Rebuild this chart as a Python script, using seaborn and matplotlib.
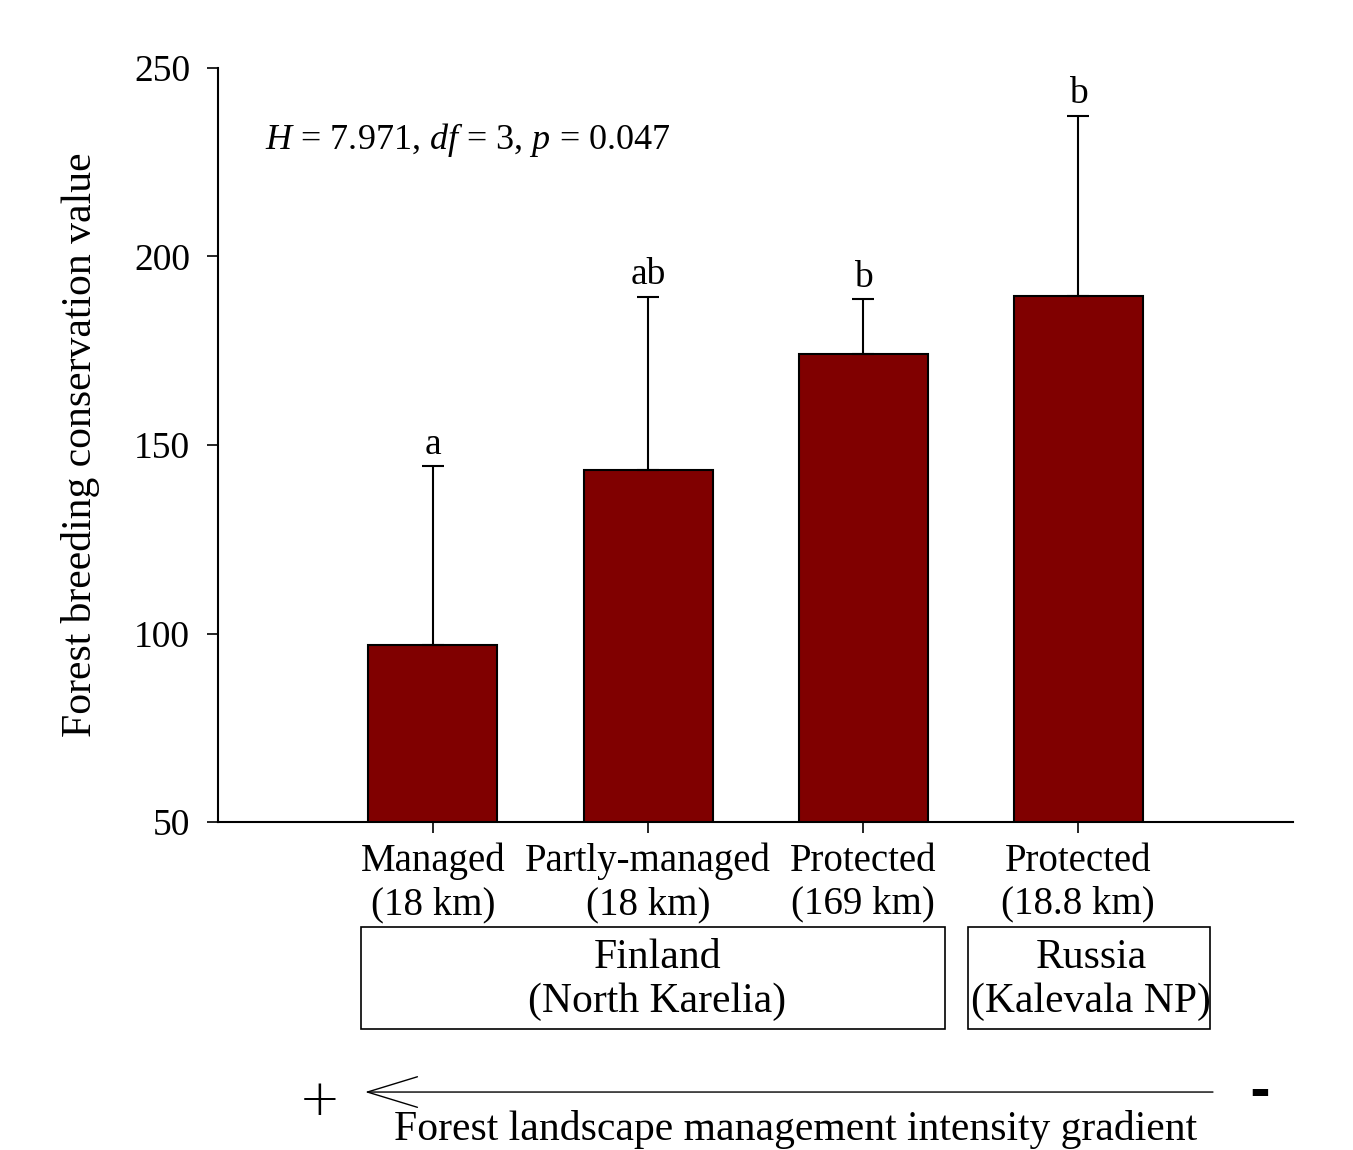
import matplotlib
matplotlib.use("Agg")
import matplotlib.pyplot as plt
import seaborn as sns
from matplotlib.patches import Rectangle

categories = ["Managed\n(18 km)", "Partly-managed\n(18 km)", "Protected\n(169 km)", "Protected\n(18.8 km)"]
means = [97.0, 143.4, 174.1, 189.5]
upper_err = [47.4, 45.9, 14.6, 47.8]
letters = ["a", "ab", "b", "b"]
regions = ["Finland\n(North Karelia)", "Russia\n(Kalevala NP)"]

sns.set_style("ticks")
plt.rcParams['font.family'] = ['Liberation Serif', 'DejaVu Serif']
plt.rcParams['mathtext.fontset'] = 'custom'
plt.rcParams['mathtext.rm'] = 'Liberation Serif'
plt.rcParams['mathtext.it'] = 'Liberation Serif:italic'
for k in ['text.color', 'axes.labelcolor', 'xtick.color', 'ytick.color', 'axes.edgecolor']:
    plt.rcParams[k] = 'black'

fig = plt.figure(figsize=(13.53, 11.5), dpi=100)
ax = fig.add_axes([0.1611, 0.2852, 0.7946, 0.6557])

sns.barplot(x=list(range(4)), y=means, color='#800000', edgecolor='black',
            linewidth=1.5, width=0.6, saturation=1, ax=ax, native_scale=True)
ax.errorbar(range(4), means, yerr=[[0] * 4, upper_err], fmt='none',
            ecolor='black', elinewidth=1.5, capsize=8, capthick=1.5)
for i, (m, e, l) in enumerate(zip(means, upper_err, letters)):
    ax.text(i, m + e + 1.2, l, ha='center', va='bottom', fontsize=27)

ax.set_xlim(-1, 4)
ax.set_ylim(50, 250)
ax.set_yticks([50, 100, 150, 200, 250])
ax.set_xticks(range(4))
ax.set_xticklabels(categories, fontsize=28)
ax.tick_params(axis='y', labelsize=27, length=8, width=1.2, direction='out', pad=12)
ax.tick_params(axis='x', length=8, width=1.2, direction='out', pad=7)
sns.despine(ax=ax)
for s in ['left', 'bottom']:
    ax.spines[s].set_linewidth(1.5)

ax.set_ylabel("Forest breeding conservation value", fontsize=30)
ax.yaxis.set_label_coords(-0.11, 0.5)

ax.text(-0.78, 231, r"$H$ = 7.971, $df$ = 3, $p$ = 0.047", fontsize=26,
        ha='left', va='center')

# region boxes under the x tick labels
fig.patches.append(Rectangle((0.2668, 0.1052), 0.4316, 0.0887, transform=fig.transFigure,
                             fill=False, edgecolor='black', linewidth=1.2))
fig.patches.append(Rectangle((0.7155, 0.1052), 0.1789, 0.0887, transform=fig.transFigure,
                             fill=False, edgecolor='black', linewidth=1.2))
fig.text(0.486, 0.1480, regions[0], ha='center', va='center', fontsize=30, linespacing=1.2)
fig.text(0.8065, 0.1480, regions[1], ha='center', va='center', fontsize=30, linespacing=1.2)

# management gradient arrow
ax.annotate("", xy=(0.2698, 0.0504), xytext=(0.8965, 0.0504),
            xycoords='figure fraction', textcoords='figure fraction',
            arrowprops=dict(arrowstyle='->,head_length=1.8,head_width=0.55',
                            mutation_scale=20, color='black', linewidth=1.0,
                            shrinkA=0, shrinkB=0))
fig.text(0.2365, 0.043, "+", ha='center', va='center', fontsize=36,
         family='DejaVu Sans', fontweight='light')
fig.text(0.931, 0.050, "-", ha='center', va='center', fontsize=36,
         family='DejaVu Sans', fontweight='bold')
fig.text(0.588, 0.0175, "Forest landscape management intensity gradient",
         ha='center', va='center', fontsize=30)

fig.savefig("out.png", dpi=100)
